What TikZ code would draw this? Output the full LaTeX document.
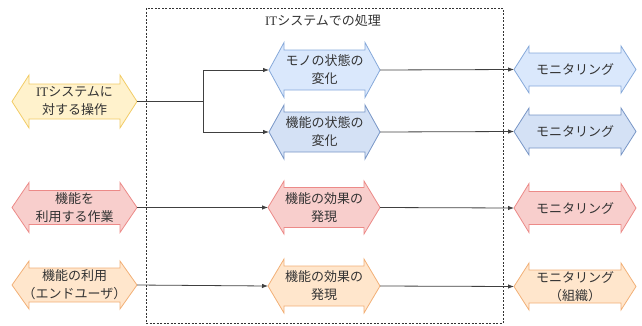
\documentclass[tikz,border=0pt]{standalone}
\usepackage{fontspec}
\setmainfont{Noto Sans CJK JP}
\newfontfamily\lat{Liberation Serif}
\usetikzlibrary{arrows.meta}
\definecolor{yfill}{HTML}{FFF2CC}\definecolor{ydraw}{HTML}{F2CC66}
\definecolor{b1fill}{HTML}{DAE8FC}\definecolor{b1draw}{HTML}{86A9DA}
\definecolor{b2fill}{HTML}{D4E1F5}\definecolor{b2draw}{HTML}{7896C6}
\definecolor{pfill}{HTML}{F8CECC}\definecolor{pdraw}{HTML}{EC8A88}
\definecolor{ofill}{HTML}{FFE6CC}\definecolor{odraw}{HTML}{F2B077}
\definecolor{txt}{HTML}{333333}
\definecolor{conn}{HTML}{404040}
% #1 name, #2 cx, #3 cy, #4 half length, #5 half total width, #6 half shaft, #7 head length, #8 style, #9 text
\newcommand\darr[9]{%
  \filldraw[#8] ({#2-#4},{#3}) -- ({#2-#4+#7},{#3-#5}) -- ({#2-#4+#7},{#3-#6})
    -- ({#2+#4-#7},{#3-#6}) -- ({#2+#4-#7},{#3-#5}) -- ({#2+#4},{#3})
    -- ({#2+#4-#7},{#3+#5}) -- ({#2+#4-#7},{#3+#6}) -- ({#2-#4+#7},{#3+#6})
    -- ({#2-#4+#7},{#3+#5}) -- cycle;
  \node[lbl, minimum width={2*#4}, minimum height={2*#5}] (#1) at (#2,#3) {#9};
}
\begin{document}
\begin{tikzpicture}[x=1pt,y=-1pt,
  lbl/.style={inner sep=0pt, outer sep=0pt, align=center, text=txt, font=\fontsize{13}{18}\selectfont},
  sY/.style={fill=yfill, draw=ydraw, line width=0.8pt, line join=miter},
  sB1/.style={fill=b1fill, draw=b1draw, line width=0.8pt},
  sB2/.style={fill=b2fill, draw=b2draw, line width=0.8pt},
  sP/.style={fill=pfill, draw=pdraw, line width=0.8pt},
  sO/.style={fill=ofill, draw=odraw, line width=0.8pt},
  conn/.style={draw=conn, line width=0.8pt, -{Latex[length=6pt,width=4.5pt]}},
  frame/.style={draw=black!80, dashed, line width=0.6pt, dash pattern=on 2pt off 1.5pt}]
\useasboundingbox (0,0) rectangle (642,325);
\draw[frame] (146,8) rectangle (503,323);
\node[lbl] (title) at (323,21) {{\lat IT}システムでの処理};
% left
\darr{l1}{74.5}{101.5}{62.5}{26.5}{17.5}{17}{sY}{{\lat IT}システムに\\対する操作}
\darr{l3}{74.5}{207.5}{62.5}{25}{17}{17}{sP}{機能を\\利用する作業}
\darr{l4}{74.5}{285}{62.5}{24}{17}{17}{sO}{機能の利用\\（エンドユーザ）}
% middle
\darr{m1}{324.5}{70}{55.5}{27.5}{20}{15}{sB1}{モノの状態の\\変化}
\darr{m2}{324.5}{132}{55.5}{27}{20}{15}{sB2}{機能の状態の\\変化}
\darr{m3}{324}{207.5}{56}{26.5}{20}{16}{sP}{機能の効果の\\発現}
\darr{m4}{324}{286}{56}{27}{20}{16}{sO}{機能の効果の\\発現}
% right
\darr{r1}{575}{69.5}{61}{23.5}{16.5}{15}{sB1}{モニタリング}
\darr{r2}{575}{131.5}{61}{23.5}{16.5}{15}{sB2}{モニタリング}
\darr{r3}{575}{208}{61}{24.5}{16.5}{15}{sP}{モニタリング}
\darr{r4}{575}{286.5}{61}{23.5}{16.5}{15}{sO}{モニタリング\\（組織）}
% connectors
\coordinate (j) at (203,101.5);
\draw[draw=conn, line width=0.8pt] (l1.east) -- (j);
\draw[conn] (j) |- (m1.west);
\draw[conn] (j) |- (m2.west);
\draw[conn] (l3.east) -- (m3.west);
\draw[conn] (l4.east) -- (m4.west);
\draw[conn] (m1.east) -- (r1.west);
\draw[conn] (m2.east) -- (r2.west);
\draw[conn] (m3.east) -- (r3.west);
\draw[conn] (m4.east) -- (r4.west);
\end{tikzpicture}
\end{document}
